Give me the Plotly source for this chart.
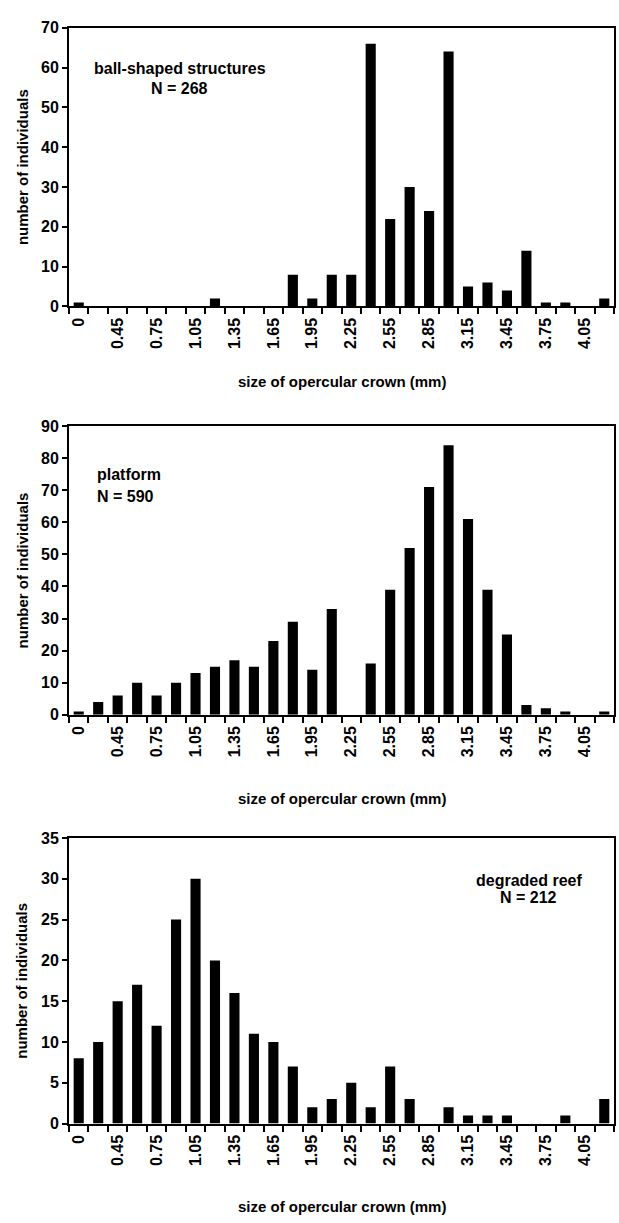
import plotly.graph_objects as go

W, H = 619, 1223

categories = ["0", "0.3", "0.45", "0.6", "0.75", "0.9", "1.05", "1.2", "1.35", "1.5",
              "1.65", "1.8", "1.95", "2.1", "2.25", "2.4", "2.55", "2.7", "2.85", "3",
              "3.15", "3.3", "3.45", "3.6", "3.75", "3.9", "4.05", "4.2"]

ball_shaped = [1, 0, 0, 0, 0, 0, 0, 2, 0, 0, 0, 8, 2, 8, 8, 66, 22, 30, 24, 64,
               5, 6, 4, 14, 1, 1, 0, 2]
platform = [1, 4, 6, 10, 6, 10, 13, 15, 17, 15, 23, 29, 14, 33, 0, 16, 39, 52, 71, 84,
            61, 39, 25, 3, 2, 1, 0, 1]
degraded_reef = [8, 10, 15, 17, 12, 25, 30, 20, 16, 11, 10, 7, 2, 3, 5, 2, 7, 3, 0, 2,
                 1, 1, 1, 0, 0, 1, 0, 3]

tick_labels = [c if i % 2 == 0 else "" for i, c in enumerate(categories)]

panels = [
    dict(values=ball_shaped, ymax=70, dtick=10, label="ball-shaped structures", n="N = 268"),
    dict(values=platform, ymax=90, dtick=10, label="platform", n="N = 590"),
    dict(values=degraded_reef, ymax=35, dtick=5, label="degraded reef", n="N = 212"),
]

# layout geometry (pixels)
x_left, x_right = 69, 614
boxes = [(20, 302.7), (424, 716.7), (841.7, 1131.3)]
xtitle_y = [379, 802, 1215]


def fx(p):
    return p / W


def fy(p):
    return 1 - p / H


FONT = "Liberation Sans, Arial, Helvetica, sans-serif"

fig = go.Figure()
annotations = []

for i, (pan, (top, bot)) in enumerate(zip(panels, boxes)):
    k = "" if i == 0 else str(i + 1)
    fig.add_trace(go.Bar(
        x=categories, y=pan["values"], marker=dict(color="black", line=dict(width=0)),
        xaxis="x" + k, yaxis="y" + k, showlegend=False,
    ))
    fig.layout["xaxis" + k] = dict(
        domain=[fx(x_left), fx(x_right)], anchor="y" + k, type="category",
        tickmode="array", tickvals=categories, ticktext=tick_labels,
        tickson="boundaries", ticks="outside", ticklen=6, tickwidth=2, tickcolor="black",
        tickangle=-90, ticklabelstandoff=3,
        tickfont=dict(family=FONT, size=16, color="black", weight="bold"),
        showline=True, linewidth=2, linecolor="black", mirror=True,
        showgrid=False, zeroline=False, range=[-0.5, len(categories) - 0.5],
    )
    fig.layout["yaxis" + k] = dict(
        domain=[fy(bot), fy(top)], anchor="x" + k,
        range=[0, pan["ymax"]], dtick=pan["dtick"], tick0=0,
        ticks="outside", ticklen=5, tickwidth=2, tickcolor="black",
        tickfont=dict(family=FONT, size=16, color="black", weight="bold"),
        showline=True, linewidth=2, linecolor="black", mirror=True,
        showgrid=False, zeroline=False,
    )
    # axis titles
    annotations.append(dict(
        text="size of opercular crown (mm)", xref="paper", yref="paper",
        x=fx((x_left + x_right) / 2), y=fy(xtitle_y[i]), showarrow=False,
        xanchor="center", yanchor="middle",
        font=dict(family=FONT, size=15, color="black", weight="bold")))
    annotations.append(dict(
        text="number of individuals", xref="paper", yref="paper",
        x=fx(22), y=fy((top + bot) / 2), showarrow=False, textangle=-90,
        xanchor="center", yanchor="middle",
        font=dict(family=FONT, size=15, color="black", weight="bold")))

# panel labels
lab_font = dict(family=FONT, size=16, color="black", weight="bold")
annotations += [
    dict(text=panels[0]["label"], x=fx(180), y=fy(61), xanchor="center"),
    dict(text=panels[0]["n"], x=fx(179), y=fy(82), xanchor="center"),
    dict(text=panels[1]["label"], x=fx(95), y=fy(473), xanchor="left"),
    dict(text=panels[1]["n"], x=fx(95), y=fy(495), xanchor="left"),
    dict(text=panels[2]["label"], x=fx(529), y=fy(885), xanchor="center"),
    dict(text=panels[2]["n"], x=fx(528), y=fy(902), xanchor="center"),
]
for a in annotations[-6:]:
    a.update(xref="paper", yref="paper", showarrow=False, yanchor="middle", font=lab_font)

fig.update_layout(
    width=W, height=H, margin=dict(l=0, r=0, t=0, b=0),
    paper_bgcolor="white", plot_bgcolor="white",
    bargap=0.48, annotations=annotations, showlegend=False,
)

fig.write_html("out.html")
